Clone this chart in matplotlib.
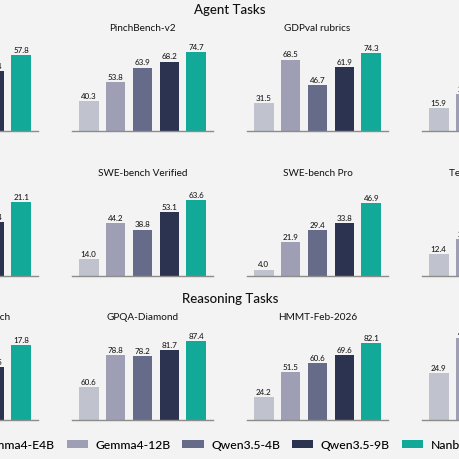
import numpy as np
import matplotlib.pyplot as plt
from matplotlib.patches import Patch

plt.rcParams['font.family'] = ['Lato', 'DejaVu Sans']
plt.rcParams['font.weight'] = 'medium'

models = ['Gemma4-E4B', 'Gemma4-12B', 'Qwen3.5-4B', 'Qwen3.5-9B', 'Nanbeige4.1-3B']
colors = ['#c0c2cd', '#9e9eb4', '#666b89', '#2b3350', '#13a998']
nan = np.nan

# bars outside the visible crop are left as nan
agent_names = ['', 'PinchBench-v2', 'GDPval rubrics', '']
agent_scores = [
    [nan, nan, nan, 48.4, 57.8],
    [40.3, 53.8, 63.9, 68.2, 74.7],
    [31.5, 68.5, 46.7, 61.9, 74.3],
    [15.9, 25.5, nan, nan, nan],
]
agent_ylim = [(12.3, 66.2), (18.8, 82.8), (7.3, 84.4), (0, 61.4)]

code_names = ['', 'SWE-bench Verified', 'SWE-bench Pro', 'Terminal-Bench 2.0']
code_scores = [
    [nan, nan, nan, 15.4, 21.1],
    [14.0, 44.2, 38.8, 53.1, 63.6],
    [4.0, 21.9, 29.4, 33.8, 46.9],
    [12.4, 21.0, nan, nan, nan],
]
code_ylim = [(0, 25.7), (0, 75.6), (0, 58.1), (0, 51.4)]

reason_names = ['IMO-AnswerBench', 'GPQA-Diamond', 'HMMT-Feb-2026', '']
reason_scores = [
    [nan, nan, nan, 12.5, 17.8],
    [60.6, 78.8, 78.2, 81.7, 87.4],
    [24.2, 51.5, 60.6, 69.6, 82.1],
    [24.9, 43.9, nan, nan, nan],
]
reason_ylim = [(0, 21.4), (41.2, 93.6), (0, 96.3), (0, 48.0)]

bg = '#f3f3f3'
fig = plt.figure(figsize=(4.6, 4.6), dpi=100, facecolor=bg)
W = H = 460.0

# layout in pixels of the crop (panels at the edges are cut off)
col_left = [-103, 72, 247, 422]
row_base = [132, 276.7, 421]
ax_w, ax_h = 141, 90

rows = [
    (agent_names, agent_scores, agent_ylim),
    (code_names, code_scores, code_ylim),
    (reason_names, reason_scores, reason_ylim),
]

x = np.arange(len(models))
for r, (names, scores, ylims) in enumerate(rows):
    for c in range(4):
        ax = fig.add_axes([col_left[c] / W, 1 - row_base[r] / H, ax_w / W, ax_h / H])
        ax.set_facecolor('none')
        vals = np.array(scores[c], dtype=float)
        ax.bar(x, vals, width=0.73, color=colors)
        for xi, v in zip(x, vals):
            if np.isnan(v):
                continue
            ax.annotate(f'{v:.1f}', (xi, v), xytext=(0, 1.5), textcoords='offset points',
                        ha='center', va='bottom', fontsize=5.8, color='#1a1a1a')
        ax.set_xlim(-0.62, 4.62)
        ax.set_ylim(*ylims[c])
        ax.set_xticks([])
        ax.set_yticks([])
        for s in ['top', 'left', 'right']:
            ax.spines[s].set_visible(False)
        ax.spines['bottom'].set_color('#8c8c8c')
        ax.spines['bottom'].set_linewidth(1.0)
        if names[c]:
            ax.set_title(names[c], fontsize=7.2, pad=8, color='#111111')

fig.text(0.5, 1 - 14 / H, 'Agent Tasks', ha='center', va='baseline', fontsize=9.5, color='#111111')
fig.text(0.5, 1 - 302.7 / H, 'Reasoning Tasks', ha='center', va='baseline', fontsize=9.5, color='#111111')

handles = [Patch(facecolor=col) for col in colors]
fig.legend(handles, models, loc='center', bbox_to_anchor=(0.51, 1 - 446 / H), ncol=5,
           frameon=False, fontsize=8.7, handlelength=1.75, handleheight=0.66,
           handletextpad=0.62, columnspacing=1.0)

fig.savefig('out.png', dpi=100, facecolor=bg)
